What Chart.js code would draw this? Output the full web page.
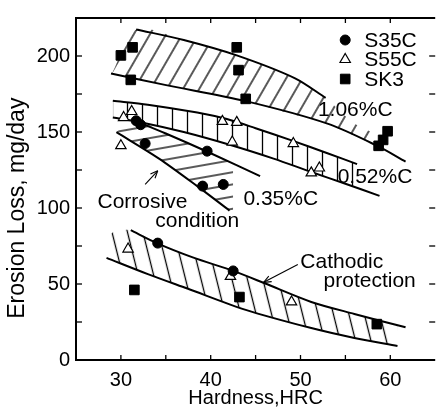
<!DOCTYPE html>
<html><head><meta charset="utf-8">
<script src="https://cdn.jsdelivr.net/npm/chart.js@4/dist/chart.umd.min.js"></script>
<style>html,body{margin:0;padding:0;background:#fff;}#wrap{width:443px;height:410px;}</style>
</head><body><div id="wrap"><canvas id="c" width="443" height="410"></canvas></div>
<script>
// ---- tick values ----
const xTickValues = [30, 40, 50, 60];
const yTickValues = [0, 50, 100, 150, 200];
const xMinorTicks = [30, 35, 40, 45, 50, 55, 60];
const yMinorTicks = [25, 50, 75, 100, 125, 150, 175, 200];

// ---- measured points ----
const s35cX = [31.7, 32.2, 32.7, 34.1, 39.6, 39.1, 41.4, 42.5];
const s35cY = [157.4, 154.8, 142.4, 76.9, 137.4, 114.4, 115.5, 58.6];
const s55cX = [30.3, 31.2, 30.0, 41.3, 42.9, 42.4, 49.2, 51.2, 52.1, 30.8, 42.2, 49.0];
const s55cY = [159.5, 163.5, 141.0, 157.0, 156.3, 143.4, 142.4, 123.1, 126.3, 73.0, 55.0, 38.2];
const sk3X = [30.0, 31.3, 31.1, 42.9, 43.1, 43.9, 58.7, 59.2, 59.7, 31.5, 43.2, 58.5];
const sk3Y = [200.4, 205.7, 184.3, 205.7, 190.7, 171.8, 140.9, 144.8, 150.5, 46.1, 41.4, 23.6];

// ---- band boundary curves ----
const c106UpX = [31.7, 37, 42.9, 49.4, 52.8];
const c106UpY = [217.5, 210.5, 200.4, 185.3, 172.4];
const c106LoX = [28.9, 34.9, 43.9, 53, 58.4, 61.7];
const c106LoY = [188.5, 181, 170.3, 155.5, 141.3, 130.5];
const c052UpX = [29.1, 33, 38.5, 41.8, 45, 49, 53, 56.3];
const c052UpY = [170.5, 168, 162.8, 158.5, 152.5, 144.5, 136, 128.9];
const c052LoX = [29.1, 32.3, 37, 42.3, 47, 51.2, 55, 58.8];
const c052LoY = [159.5, 156.3, 150, 141.3, 132.5, 123.7, 116, 108];
const c035UpX = [31.3, 35, 40, 45.5];
const c035UpY = [158, 149, 136, 121];
const c035LoX = [29.5, 34.2, 38.5, 42.1];
const c035LoY = [149.9, 132.7, 114.4, 98.3];
const cCatUpX = [31.1, 34, 38, 42.5, 46, 51.2, 56, 61.7];
const cCatUpY = [85.4, 76.9, 67.5, 58.6, 50.5, 38.2, 30.3, 21.5];
const cCatLoX = [28.4, 33, 37.4, 43.9, 51.2, 56, 60.8];
const cCatLoY = [67.2, 56.5, 47, 33, 21, 14.5, 9.2];

// ---- hatched regions (top / bottom on shared x) ----
const h106X = [29, 31.7, 37, 42.9, 49.4, 52.8, 56, 59];
const h106Top = [188.4, 217.5, 210.5, 200.4, 185.3, 172.4, 155.6, 147.3];
const h106Bot = [188.4, 185, 178.5, 171.5, 161.3, 155.8, 147.6, 139.3];
const h052X = [29.1, 33, 38.5, 41.8, 45, 49, 53, 56.3];
const h052Top = [170.5, 168, 162.8, 158.5, 152.5, 144.5, 136, 128.9];
const h052Bot = [159.5, 155.4, 147.5, 142.1, 136.2, 128.3, 120, 113.3];
const h035X = [29.5, 31.3, 35, 40, 42.5];
const h035Top = [149.9, 158, 149, 136, 129.2];
const h035Bot = [149.9, 143.3, 129.3, 107.7, 96.5];
const hCatX = [28.4, 28.9, 31.1, 34, 38, 42.5, 46, 51.2, 56, 60.8];
const hCatTop = [67.2, 83, 85.4, 76.9, 67.5, 58.6, 50.5, 38.2, 30.3, 22.9];
const hCatBot = [67.2, 66, 60.9, 54.3, 45.7, 35.9, 29.6, 21, 14.5, 9.2];

// ---- texts ----
const seriesNames = ['S35C', 'S55C', 'SK3'];
const annotTexts = ['1.06%C', '0.52%C', '0.35%C', 'Corrosive', 'condition', 'Cathodic', 'protection'];
const annotX = [56.1, 58.3, 47.8, 32.4, 38.5, 54.6, 57.7];
const annotY = [164.4, 120.4, 105.9, 103.9, 91.4, 64.5, 51.6];

const zip = (xs, ys) => xs.map((x, i) => ({x, y: ys[i]}));
const FONT = "'Liberation Sans', Arial, sans-serif";

const canvas = document.getElementById('c');
const mainCtx = canvas.getContext('2d');
function hatch(spacing, angle, horizontal) {
  const t = document.createElement('canvas');
  t.width = spacing; t.height = spacing;
  const g = t.getContext('2d');
  g.strokeStyle = '#000'; g.lineWidth = 1.3;
  g.beginPath();
  if (horizontal) { g.moveTo(0, spacing / 2); g.lineTo(spacing, spacing / 2); }
  else { g.moveTo(spacing / 2, 0); g.lineTo(spacing / 2, spacing); }
  g.stroke();
  const p = mainCtx.createPattern(t, 'repeat');
  p.setTransform(new DOMMatrix().rotateSelf(angle));
  return p;
}

const curve = (xs, ys) => ({
  data: zip(xs, ys), borderColor: '#000', borderWidth: 2, pointRadius: 0,
  tension: 0.3, fill: false
});
const hatchTop = (xs, ys, pat) => ({
  data: zip(xs, ys), borderColor: 'rgba(0,0,0,0)', borderWidth: 0, pointRadius: 0,
  tension: 0.3, fill: {target: '+1'}, backgroundColor: pat
});
const hatchBot = (xs, ys) => ({
  data: zip(xs, ys), borderColor: 'rgba(0,0,0,0)', borderWidth: 0, pointRadius: 0,
  tension: 0.3, fill: false
});

const seriesStyle = [
  {pointStyle: 'circle', pointRadius: 5, backgroundColor: '#000', borderColor: '#000', borderWidth: 1},
  {pointStyle: 'triangle', pointRadius: 6, backgroundColor: '#fff', borderColor: '#000', borderWidth: 1.2},
  {pointStyle: 'rect', pointRadius: 6.8, backgroundColor: '#000', borderColor: '#000', borderWidth: 1}
];

const datasets = [
  Object.assign({label: seriesNames[0], data: zip(s35cX, s35cY), showLine: false}, seriesStyle[0]),
  Object.assign({label: seriesNames[1], data: zip(s55cX, s55cY), showLine: false}, seriesStyle[1]),
  Object.assign({label: seriesNames[2], data: zip(sk3X, sk3Y), showLine: false}, seriesStyle[2]),
  curve(c106UpX, c106UpY), curve(c106LoX, c106LoY),
  curve(c052UpX, c052UpY), curve(c052LoX, c052LoY),
  curve(c035UpX, c035UpY), curve(c035LoX, c035LoY),
  curve(cCatUpX, cCatUpY), curve(cCatLoX, cCatLoY),
  hatchTop(h106X, h106Top, hatch(14, 30, false)), hatchBot(h106X, h106Bot),
  hatchTop(h052X, h052Top, hatch(15, 0, false)), hatchBot(h052X, h052Bot),
  hatchTop(h035X, h035Top, hatch(12, -10, true)), hatchBot(h035X, h035Bot),
  hatchTop(hCatX, hCatTop, hatch(15, -14, false)), hatchBot(hCatX, hCatBot)
];

function seg(ctx, x1, y1, x2, y2) { ctx.beginPath(); ctx.moveTo(x1, y1); ctx.lineTo(x2, y2); ctx.stroke(); }
function arrow(ctx, x1, y1, x2, y2) {
  seg(ctx, x1, y1, x2, y2);
  const a = Math.atan2(y2 - y1, x2 - x1), L = 8, w = 0.4;
  seg(ctx, x2, y2, x2 - L * Math.cos(a - w), y2 - L * Math.sin(a - w));
  seg(ctx, x2, y2, x2 - L * Math.cos(a + w), y2 - L * Math.sin(a + w));
}
function marker(ctx, style, cx, cy) {
  ctx.fillStyle = style.backgroundColor; ctx.strokeStyle = style.borderColor; ctx.lineWidth = style.borderWidth;
  const r = style.pointRadius;
  ctx.beginPath();
  if (style.pointStyle === 'circle') ctx.arc(cx, cy, r, 0, Math.PI * 2);
  else if (style.pointStyle === 'triangle') {
    for (let k = 0; k < 3; k++) {
      const ang = k * 2 * Math.PI / 3;
      const px = cx + Math.sin(ang) * r, py = cy - Math.cos(ang) * r;
      k ? ctx.lineTo(px, py) : ctx.moveTo(px, py);
    }
    ctx.closePath();
  } else { const s = Math.SQRT1_2 * r; ctx.rect(cx - s, cy - s, 2 * s, 2 * s); }
  ctx.fill(); ctx.stroke();
}

const decor = {
  id: 'decor',
  afterDatasetsDraw(chart) {
    const {ctx, chartArea: a, scales: {x, y}} = chart;
    ctx.save();
    ctx.strokeStyle = '#000'; ctx.lineWidth = 2;
    ctx.beginPath();
    ctx.moveTo(a.right, a.top); ctx.lineTo(a.left, a.top); ctx.lineTo(a.left, a.bottom); ctx.lineTo(a.right, a.bottom);
    ctx.stroke();
    ctx.lineWidth = 1.3;
    xMinorTicks.forEach(v => { const p = x.getPixelForValue(v); seg(ctx, p, a.bottom, p, a.bottom - 5); seg(ctx, p, a.top, p, a.top + 5); });
    yMinorTicks.forEach(v => { const p = y.getPixelForValue(v); seg(ctx, a.left, p, a.left + 6, p); seg(ctx, a.right, p, a.right - 6, p); });
    // arrows
    ctx.lineWidth = 1.1;
    arrow(ctx, x.getPixelForValue(32.7), y.getPixelForValue(115.5), x.getPixelForValue(34.1), y.getPixelForValue(124.5));
    arrow(ctx, x.getPixelForValue(49.7), y.getPixelForValue(62.9), x.getPixelForValue(45.9), y.getPixelForValue(51.1));
    // annotation texts
    ctx.fillStyle = '#000';
    ctx.font = '21px ' + FONT;
    ctx.textAlign = 'center'; ctx.textBaseline = 'middle';
    annotTexts.forEach((t, i) => ctx.fillText(t, x.getPixelForValue(annotX[i]), y.getPixelForValue(annotY[i])));
    // legend
    seriesNames.forEach((n, i) => {
      const cy = a.top + 22 + i * 19.5;
      marker(ctx, seriesStyle[i], a.right - 90, cy);
      ctx.fillStyle = '#000'; ctx.textAlign = 'left'; ctx.textBaseline = 'middle';
      ctx.font = '21px ' + FONT;
      ctx.fillText(n, a.right - 71, cy + 1);
    });
    ctx.restore();
  }
};

new Chart(canvas, {
  type: 'line',
  data: {datasets},
  plugins: [decor],
  options: {
    responsive: false, animation: false, devicePixelRatio: 1,
    layout: {padding: {top: 10, right: -1, left: 0, bottom: 0}},
    plugins: {legend: {display: false}, tooltip: {enabled: false}},
    scales: {
      x: {
        type: 'linear', min: 25, max: 65,
        afterBuildTicks: s => { s.ticks = xTickValues.map(v => ({value: v})); },
        afterFit: s => { s.height = 50; },
        grid: {display: false, drawTicks: false}, border: {display: false},
        ticks: {color: '#000', font: {family: FONT, size: 20}, padding: 8},
        title: {display: true, text: 'Hardness,HRC', color: '#000', font: {family: FONT, size: 20}, padding: {top: 0, bottom: 0}}
      },
      y: {
        type: 'linear', min: 0, max: 225,
        afterBuildTicks: s => { s.ticks = yTickValues.map(v => ({value: v})); },
        afterFit: s => { s.width = 76; },
        grid: {display: false, drawTicks: false}, border: {display: false},
        ticks: {color: '#000', font: {family: FONT, size: 20}, padding: 6},
        title: {display: true, text: 'Erosion Loss, mg/day      ', color: '#000', font: {family: FONT, size: 23}, padding: {top: 4, bottom: 0}}
      }
    }
  }
});
</script></body></html>
